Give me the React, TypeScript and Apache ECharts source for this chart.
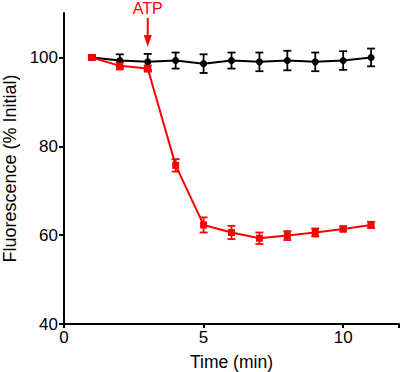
import React, { useEffect, useRef } from "react";
import * as echarts from "echarts";

const times = [1, 2, 3, 4, 5, 6, 7, 8, 9, 10, 11];
const controlMean = [100, 99.3, 99.0, 99.3, 98.6, 99.3, 99.0, 99.3, 99.0, 99.3, 100.0];
const controlErr = [0.5, 1.4, 1.8, 1.8, 2.1, 1.8, 2.1, 2.2, 2.1, 2.1, 2.0];
const atpMean = [100, 98.1, 97.5, 75.7, 62.3, 60.6, 59.3, 59.9, 60.6, 61.4, 62.3];
const atpErr = [0.3, 0.8, 0.7, 1.4, 1.7, 1.5, 1.3, 1.0, 0.9, 0.6, 0.7];
const xTicks = [0, 5, 10];
const yTicks = [40, 60, 80, 100];
const atpTime = 3;

const FONT = "'Liberation Sans', Arial, Helvetica, sans-serif";

function errorSeries(name: string, mean: number[], err: number[], color: string) {
  const data = times.map((t, i) => [t, mean[i] - err[i], mean[i] + err[i]]);
  return {
    name,
    type: "custom",
    z: 3,
    data,
    renderItem: (params: any, api: any) => {
      const x = api.value(0);
      const lo = api.coord([x, api.value(1)]);
      const hi = api.coord([x, api.value(2)]);
      const hw = 4;
      const style = { stroke: color, lineWidth: 1.8, fill: "none" };
      return {
        type: "group",
        children: [
          { type: "line", shape: { x1: lo[0], y1: lo[1], x2: hi[0], y2: hi[1] }, style },
          { type: "line", shape: { x1: lo[0] - hw, y1: lo[1], x2: lo[0] + hw, y2: lo[1] }, style },
          { type: "line", shape: { x1: hi[0] - hw, y1: hi[1], x2: hi[0] + hw, y2: hi[1] }, style },
        ],
      };
    },
  };
}

export default function App() {
  const ref = useRef<HTMLDivElement>(null);
  useEffect(() => {
    if (!ref.current) return;
    const chart = echarts.init(ref.current, null, { renderer: "svg" });
    chart.setOption({
      animation: false,
      grid: { left: 64, right: 1, top: 13, bottom: 48, containLabel: false, outerBoundsMode: "none" },
      xAxis: {
        type: "value",
        min: 0,
        max: 12,
        interval: 5,
        name: "Time (min)",
        nameLocation: "middle",
        nameGap: 29,
        nameTextStyle: { color: "#000", fontSize: 17.5, fontFamily: FONT },
        axisLine: { lineStyle: { color: "#000", width: 2 } },
        axisTick: { length: 4, lineStyle: { color: "#000", width: 2 } },
        axisLabel: {
          color: "#000",
          fontSize: 17,
          fontFamily: FONT,
          margin: 5,
          customValues: xTicks,
        },
        splitLine: { show: false },
      },
      yAxis: {
        type: "value",
        min: 40,
        max: 110,
        interval: 10,
        name: "Fluorescence (% Initial)",
        nameLocation: "middle",
        nameGap: 45,
        nameTextStyle: { color: "#000", fontSize: 18, fontFamily: FONT },
        axisLine: { lineStyle: { color: "#000", width: 2 } },
        axisTick: { customValues: yTicks, length: 5, lineStyle: { color: "#000", width: 2 } },
        axisLabel: {
          color: "#000",
          fontSize: 17,
          fontFamily: FONT,
          margin: 6,
          customValues: yTicks,
        },
        splitLine: { show: false },
      },
      series: [
        errorSeries("controlErr", controlMean, controlErr, "#000"),
        {
          name: "Control",
          type: "line",
          z: 4,
          data: times.map((t, i) => [t, controlMean[i]]),
          symbol: "circle",
          symbolSize: 7,
          lineStyle: { color: "#000", width: 2 },
          itemStyle: { color: "#000" },
        },
        errorSeries("atpErr", atpMean, atpErr, "#ff0000"),
        {
          name: "ATP",
          type: "line",
          z: 5,
          data: times.map((t, i) => [t, atpMean[i]]),
          symbol: "rect",
          symbolSize: 7,
          lineStyle: { color: "#ff0000", width: 2 },
          itemStyle: { color: "#ff0000" },
        },
      ],
    });
    const px = chart.convertToPixel({ gridIndex: 0 }, [atpTime, 100]) as number[];
    const ax = px[0];
    chart.setOption({
      graphic: [
        {
          type: "text",
          x: ax,
          y: 8,
          style: {
            text: "ATP",
            fill: "#ff0000",
            fontSize: 16,
            fontFamily: FONT,
            align: "center",
            verticalAlign: "middle",
          },
        },
        {
          type: "line",
          shape: { x1: ax, y1: 18, x2: ax, y2: 38 },
          style: { stroke: "#ff0000", lineWidth: 2 },
        },
        {
          type: "polygon",
          shape: { points: [[ax - 4, 35], [ax + 4, 35], [ax, 47]] },
          style: { fill: "#ff0000" },
        },
      ],
    });
    return () => chart.dispose();
  }, []);
  return <div ref={ref} style={{ width: 400, height: 372, position: "absolute", left: 0, top: 0 }} />;
}
